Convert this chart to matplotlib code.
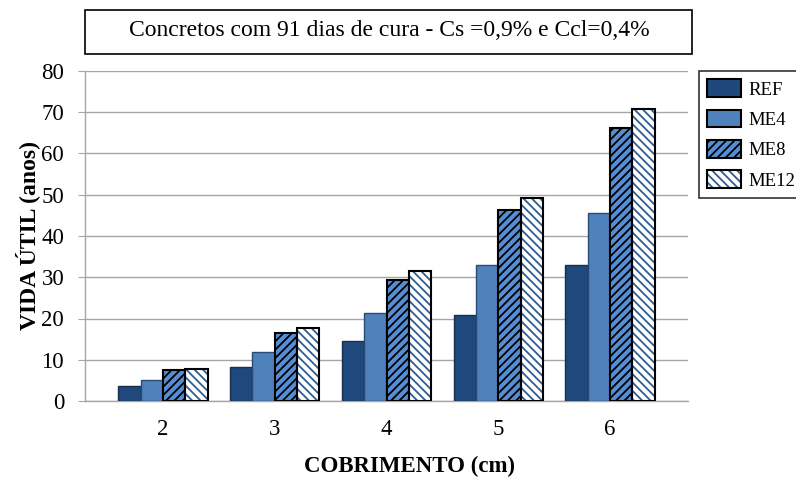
import matplotlib
matplotlib.use("Agg")
import matplotlib.pyplot as plt
import numpy as np
from matplotlib.patches import Patch, Rectangle
from matplotlib.legend_handler import HandlerTuple

# cover thickness (cm) and service life (years) per concrete mix
cobrimento = ['2', '3', '4', '5', '6']
series = ['REF', 'ME4', 'ME8', 'ME12']
ref = [3.7, 8.3, 14.6, 20.9, 33.0]
me4 = [5.2, 11.9, 21.3, 33.0, 45.5]
me8 = [7.5, 16.5, 29.4, 46.2, 66.1]
me12 = [7.8, 17.7, 31.5, 49.2, 70.8]

plt.rcParams['font.family'] = ['Liberation Serif', 'DejaVu Serif']
plt.rcParams['hatch.linewidth'] = 1.3

fig = plt.figure(figsize=(7.96, 4.79), dpi=100)
W, H = 796, 479
ax = fig.add_axes([85 / W, 1 - 401 / H, (688 - 85) / W, (401 - 71) / H])

x = np.arange(len(cobrimento))
w = 0.2
styles = [
    dict(face='#1F497D', hatch=None, hcol=None, edge='#1a2f4d', lw=1.0),
    dict(face='#4F81BD', hatch=None, hcol=None, edge='#2b4a70', lw=1.0),
    dict(face='#558ED5', hatch='////', hcol='black', edge='black', lw=1.5),
    dict(face='white', hatch='\\\\\\\\', hcol='#2E5D94', edge='black', lw=1.5),
]
handles = []
for i, (vals, st) in enumerate(zip([ref, me4, me8, me12], styles)):
    pos = x + (i - 1.5) * w
    if st['hatch']:
        # hatched fill first, then a separate black outline on top
        ax.bar(pos, vals, w, color=st['face'], hatch=st['hatch'],
               edgecolor=st['hcol'], linewidth=0, zorder=3)
        ax.bar(pos, vals, w, fill=False, edgecolor=st['edge'],
               linewidth=st['lw'], zorder=4)
        h = (Patch(facecolor=st['face'], hatch=st['hatch'], edgecolor=st['hcol'], linewidth=0),
             Patch(fill=False, edgecolor=st['edge'], linewidth=st['lw']))
    else:
        ax.bar(pos, vals, w, color=st['face'], edgecolor=st['edge'],
               linewidth=st['lw'], zorder=3)
        h = Patch(facecolor=st['face'], edgecolor='black', linewidth=1.5)
    handles.append(h)

ax.set_xlim(-0.697, len(cobrimento) - 1 + 0.697)
ax.set_ylim(0, 80)
ax.set_yticks(np.arange(0, 81, 10))
ax.set_xticks(x)
ax.set_xticklabels(cobrimento)
ax.yaxis.grid(True, color='#A6A6A6', linewidth=1.0, zorder=0)
ax.set_axisbelow(True)
for s in ['top', 'right']:
    ax.spines[s].set_visible(False)
for s in ['left', 'bottom']:
    ax.spines[s].set_color('#A6A6A6')
    ax.spines[s].set_linewidth(1.0)
ax.tick_params(axis='y', length=5, color='#A6A6A6', labelsize=16.5, pad=10)
ax.tick_params(axis='x', length=0, labelsize=16.5, pad=13)

fig.text(28 / W, 1 - 236 / H, 'VIDA ÚTIL (anos)', fontsize=17,
         fontweight='bold', rotation=90, ha='center', va='center')
fig.text(410 / W, 1 - 466 / H, 'COBRIMENTO (cm)', fontsize=16.5,
         fontweight='bold', ha='center', va='center')

# title box
fig.patches.append(Rectangle((85 / W, 1 - 54 / H), (692 - 85) / W, 44 / H,
                             transform=fig.transFigure, fill=False,
                             edgecolor='black', linewidth=1.2))
fig.text(389 / W, 1 - 31 / H, 'Concretos com 91 dias de cura - Cs =0,9% e Ccl=0,4%',
         fontsize=17, ha='center', va='center')

leg = fig.legend(handles, series, loc='upper left',
                 bbox_to_anchor=(699 / W, 1 - 71 / H), fontsize=13.5,
                 frameon=True, fancybox=False, edgecolor='black',
                 handlelength=1.8, handleheight=1.05, handletextpad=0.4,
                 labelspacing=0.6, borderpad=0.45, borderaxespad=0,
                 handler_map={tuple: HandlerTuple(ndivide=1)})
leg.get_frame().set_linewidth(1.2)

fig.savefig('out.png', dpi=100)
